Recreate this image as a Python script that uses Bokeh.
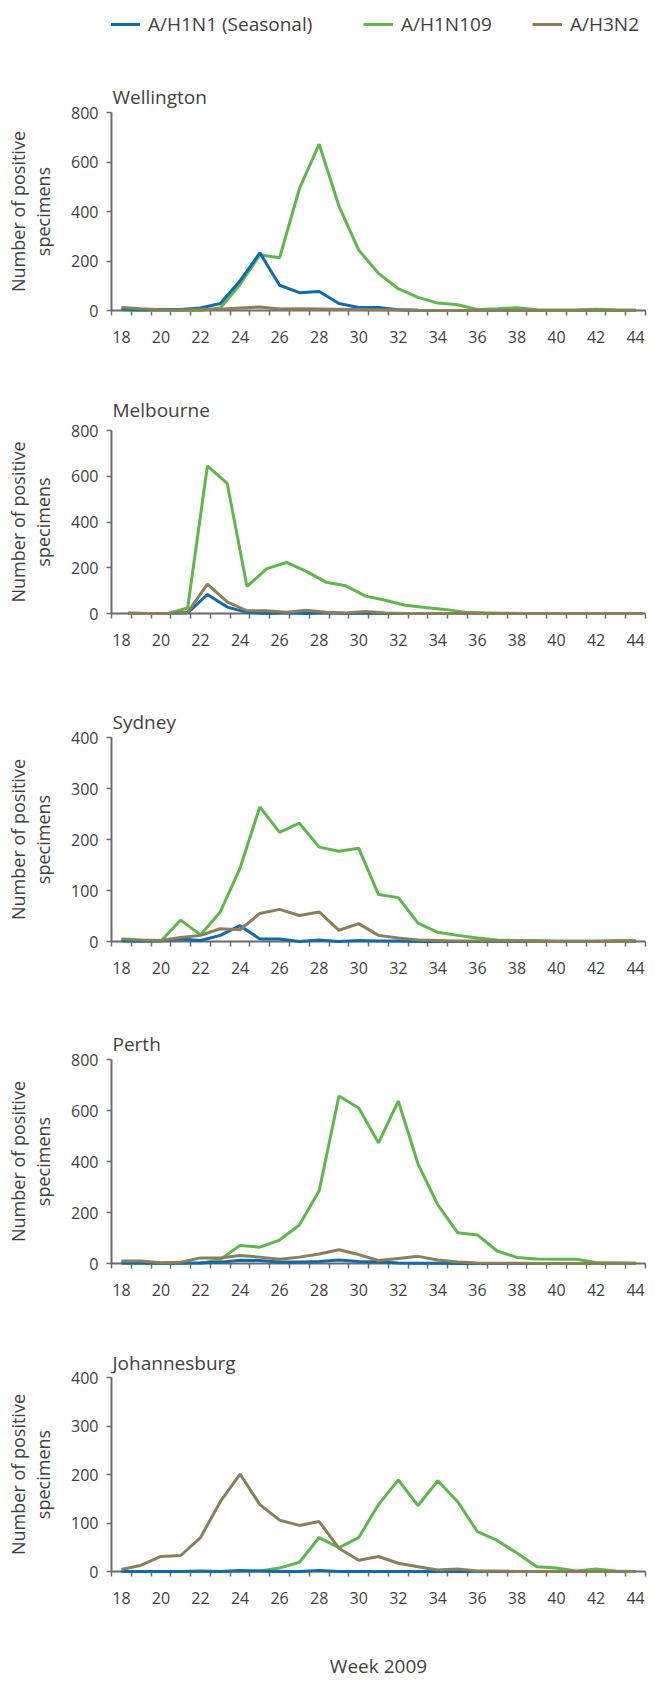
from bokeh.plotting import figure
from bokeh.layouts import column
from bokeh.models import Range1d, FixedTicker, Legend, LegendItem, ColumnDataSource, Title
from bokeh.transform import dodge
from bokeh.embed import file_html
from bokeh.resources import INLINE

# ---------------- data ----------------
weeks = list(range(18, 45))
week_tick_labels = list(range(18, 45, 2))
series_names = ["A/H1N1 (Seasonal)", "A/H1N109", "A/H3N2"]
cities = ["Wellington", "Melbourne", "Sydney", "Perth", "Johannesburg"]
y_max = [800, 800, 400, 800, 400]
y_ticks_800 = [0, 200, 400, 600, 800]
y_ticks_400 = [0, 100, 200, 300, 400]

wellington_seasonal = [5, 3, 4, 4, 10, 28, 120, 233, 102, 72, 77, 28, 12, 12, 3, 1, 0, 0, 0, 0, 0, 0, 0, 0, 0, 0, 0]
wellington_pandemic = [2, 0, 0, 0, 0, 10, 105, 225, 213, 492, 672, 422, 244, 150, 88, 53, 30, 23, 4, 7, 11, 3, 2, 3, 5, 3, 2]
wellington_h3n2 = [12, 7, 3, 2, 5, 5, 10, 14, 6, 7, 6, 5, 4, 3, 3, 1, 0, 0, 0, 0, 0, 0, 0, 0, 0, 0, 0]

melbourne_seasonal = [2, 0, 0, 3, 83, 28, 5, 0, 3, 0, 3, 0, 2, 0, 0, 0, 0, 0, 0, 0, 0, 0, 0, 0, 0, 0, 0]
melbourne_pandemic = [0, 0, 0, 24, 645, 569, 118, 196, 223, 184, 137, 121, 76, 58, 36, 26, 18, 6, 3, 1, 0, 0, 0, 0, 0, 0, 0]
melbourne_h3n2 = [0, 0, 0, 5, 128, 51, 12, 12, 5, 14, 5, 2, 9, 2, 0, 0, 0, 0, 0, 0, 0, 0, 0, 0, 0, 0, 0]

sydney_seasonal = [2, 1, 1, 5, 2, 12, 31, 5, 5, 0, 3, 0, 2, 1, 1, 0, 0, 0, 0, 0, 0, 0, 0, 0, 0, 0, 0]
sydney_pandemic = [0, 0, 1, 42, 13, 58, 144, 264, 214, 232, 185, 177, 183, 92, 86, 36, 18, 12, 7, 3, 2, 2, 1, 1, 1, 2, 2]
sydney_h3n2 = [5, 3, 2, 8, 12, 25, 23, 55, 63, 51, 58, 22, 35, 12, 7, 3, 2, 1, 1, 1, 1, 0, 0, 0, 0, 0, 0]

perth_seasonal = [2, 2, 1, 2, 3, 5, 13, 12, 6, 6, 8, 14, 8, 7, 2, 1, 1, 0, 0, 0, 0, 0, 0, 0, 0, 0, 0]
perth_pandemic = [0, 0, 0, 0, 0, 16, 71, 64, 92, 151, 285, 657, 610, 473, 637, 390, 230, 121, 112, 49, 24, 18, 17, 17, 4, 3, 2]
perth_h3n2 = [10, 10, 3, 5, 22, 22, 31, 25, 17, 25, 37, 54, 35, 12, 20, 28, 14, 6, 2, 1, 1, 0, 0, 0, 0, 0, 0]

johannesburg_seasonal = [0, 0, 0, 0, 1, 0, 2, 1, 0, 0, 2, 0, 0, 0, 0, 0, 0, 0, 0, 0, 0, 0, 0, 0, 0, 0, 0]
johannesburg_pandemic = [0, 0, 0, 0, 0, 0, 0, 1, 7, 19, 70, 49, 70, 138, 189, 136, 187, 144, 82, 64, 38, 10, 7, 1, 5, 1, 0]
johannesburg_h3n2 = [4, 13, 31, 33, 70, 144, 201, 138, 106, 95, 103, 48, 23, 31, 17, 10, 3, 5, 1, 1, 0, 0, 0, 0, 0, 0, 0]

city_data = [
    (wellington_seasonal, wellington_pandemic, wellington_h3n2),
    (melbourne_seasonal, melbourne_pandemic, melbourne_h3n2),
    (sydney_seasonal, sydney_pandemic, sydney_h3n2),
    (perth_seasonal, perth_pandemic, perth_h3n2),
    (johannesburg_seasonal, johannesburg_pandemic, johannesburg_h3n2),
]

# ---------------- style / layout ----------------
FONT = "Open Sans"
TEXT = "#3f3f3f"
AXIS = "#6b6b6b"
COLORS = ["#0a6cb2", "#5cb947", "#8c7e56"]
LW = 3
FIG_W = 656
FRAME_W = 537
# swatch left edges, relative to the (column-aligned) frame left
LEGEND_X = [-1, 252, 421]

layout_specs = [
    # height, top border, bottom border, left border, title standoff, x shift (weeks)
    dict(h=322, top=64, bottom=60, left=110, tso=6, shift=0.0),
    dict(h=310, top=60, bottom=67, left=110, tso=16, shift=0.35),
    dict(h=320, top=57, bottom=59, left=108, tso=5, shift=0.0),
    dict(h=320, top=59, bottom=57, left=108, tso=5, shift=0.0),
    dict(h=361, top=57, bottom=100, left=111, tso=3, shift=0.0),
]

# legend strip at the top: its key renderers hold the Wellington series, drawn outside the strip's view
lf = figure(width=FIG_W, height=48, x_range=Range1d(0, 1), y_range=Range1d(0, 1),
            x_axis_location=None, y_axis_location=None, min_border=0,
            toolbar_location=None, output_backend="svg", title=None)
lf.outline_line_color = None
lf.grid.visible = False
key_src = ColumnDataSource(dict(week=weeks, seasonal=wellington_seasonal,
                                pandemic=wellington_pandemic, h3n2=wellington_h3n2))
key_renderers = [lf.line(x="week", y=col, source=key_src, line_color=c, line_width=LW)
                 for col, c in zip(["seasonal", "pandemic", "h3n2"], COLORS)]
for name, r, lx in zip(series_names, key_renderers, LEGEND_X):
    lg = Legend(items=[LegendItem(label=name, renderers=[r])],
                location=(lx, 11), orientation="horizontal",
                glyph_width=30, glyph_height=20, label_height=20, label_standoff=8,
                spacing=0, padding=0, margin=0, border_line_color=None,
                background_fill_alpha=0,
                label_text_font=FONT, label_text_font_size="19px", label_text_color=TEXT)
    lf.add_layout(lg)

figs = [lf]
for i, (city, ymax, spec, data) in enumerate(zip(cities, y_max, layout_specs, city_data)):
    p = figure(width=FIG_W, height=spec["h"], x_range=Range1d(17.5, 44.5), y_range=Range1d(0, ymax),
               output_backend="svg", toolbar_location=None,
               min_border_left=spec["left"], min_border_right=FIG_W - spec["left"] - FRAME_W,
               min_border_top=spec["top"], min_border_bottom=spec["bottom"])
    p.title = Title(text=city, align="left", offset=1, standoff=spec["tso"],
                    text_font=FONT, text_font_size="19px", text_font_style="normal",
                    text_color=TEXT)
    p.outline_line_color = None
    p.xgrid.visible = False
    p.ygrid.visible = False

    xa = p.xaxis[0]
    xa.ticker = FixedTicker(ticks=week_tick_labels, minor_ticks=[w - 0.5 for w in weeks] + [44.5])
    xa.major_tick_out = 0
    xa.major_tick_in = 0
    xa.minor_tick_out = 5
    xa.minor_tick_in = 0
    xa.minor_tick_line_color = AXIS
    xa.minor_tick_line_width = 1.5
    xa.axis_line_color = AXIS
    xa.axis_line_width = 2
    xa.major_label_text_font = FONT
    xa.major_label_text_font_size = "16px"
    xa.major_label_text_color = TEXT
    xa.major_label_standoff = 15

    ya = p.yaxis[0]
    ya.ticker = FixedTicker(ticks=y_ticks_800 if ymax == 800 else y_ticks_400, minor_ticks=[])
    ya.major_tick_out = 5
    ya.major_tick_in = 0
    ya.major_tick_line_color = AXIS
    ya.major_tick_line_width = 1.5
    ya.minor_tick_out = 0
    ya.axis_line_color = AXIS
    ya.axis_line_width = 2
    ya.major_label_text_font = FONT
    ya.major_label_text_font_size = "16px"
    ya.major_label_text_color = TEXT
    ya.major_label_standoff = 8
    ya.axis_label = "Number of positive\nspecimens"
    ya.axis_label_text_font = FONT
    ya.axis_label_text_font_size = "18px"
    ya.axis_label_text_font_style = "normal"
    ya.axis_label_text_color = TEXT
    ya.axis_label_text_line_height = 1.05
    ya.axis_label_standoff = 13

    seasonal, pandemic, h3n2 = data
    src = ColumnDataSource(dict(week=weeks, seasonal=seasonal, pandemic=pandemic, h3n2=h3n2))
    xfield = dodge("week", spec["shift"], range=p.x_range) if spec["shift"] else "week"
    p.line(x=xfield, y="pandemic", source=src, line_color=COLORS[1], line_width=LW, level="overlay")
    p.line(x=xfield, y="seasonal", source=src, line_color=COLORS[0], line_width=LW, level="overlay")
    p.line(x=xfield, y="h3n2", source=src, line_color=COLORS[2], line_width=LW, level="overlay")

    if i == len(cities) - 1:
        xa.axis_label = "Week 2009"
        xa.axis_label_text_font = FONT
        xa.axis_label_text_font_size = "19px"
        xa.axis_label_text_font_style = "normal"
        xa.axis_label_text_color = TEXT
        xa.axis_label_standoff = 46

    figs.append(p)

layout = column(*figs, spacing=0)
open("out.html", "w").write(file_html(layout, INLINE))
